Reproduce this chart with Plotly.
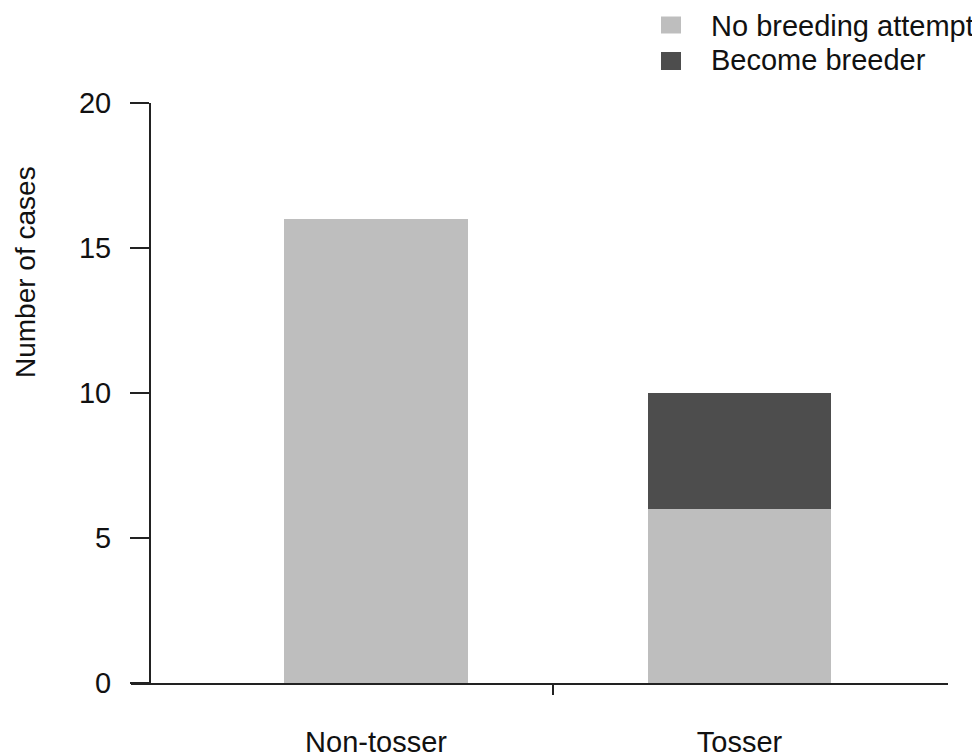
import plotly.graph_objects as go

categories = ["Non-tosser", "Tosser"]
no_breeding = [16, 6]
become_breeder = [0, 4]
series_names = ["No breeding attempt", "Become breeder"]
series_colors = ["#bebebe", "#4d4d4d"]
y_ticks = [0, 5, 10, 15, 20]

FONT = "Liberation Sans, Arial, sans-serif"

fig = go.Figure()
for name, vals, col in zip(series_names, [no_breeding, become_breeder], series_colors):
    fig.add_trace(go.Bar(
        x=categories, y=vals, name=name, width=0.506,
        marker=dict(color=col, line=dict(width=0)),
        showlegend=False,
    ))

# the page body has an 8px margin; compensate so page coordinates match
OFF = 8
W, H = 980 - OFF, 755 - OFF
L, R, T, B = 131 - OFF, 32, 103 - OFF, 72
pw, ph = W - L - R, H - T - B

def px(xp):
    return (xp - OFF - L) / pw

def py(yp):
    return (H - B - (yp - OFF)) / ph

shapes = []
annotations = []
# single x-axis tick between the groups (R-style axis)
shapes.append(dict(type="line", xref="x", yref="paper", x0=0.487, x1=0.487,
                   y0=0, y1=-12 / ph, line=dict(color="#222222", width=2)))
# manual legend
legend_rows = [(16.5, 33.5, 25.5), (52, 70, 60)]
for (top, bot, mid), name, col in zip(legend_rows, series_names, series_colors):
    shapes.append(dict(type="rect", xref="paper", yref="paper",
                       x0=px(661), x1=px(681), y0=py(bot), y1=py(top),
                       fillcolor=col, line=dict(width=0)))
    annotations.append(dict(xref="paper", yref="paper", x=px(709), y=py(mid),
                            xanchor="left", yanchor="middle", showarrow=False,
                            text=name, font=dict(size=29, color="#111111", family=FONT)))
# y-axis title
annotations.append(dict(xref="paper", yref="paper", x=px(25), y=py(272),
                        xanchor="center", yanchor="middle", showarrow=False,
                        textangle=-90, text="Number of cases",
                        font=dict(size=28, color="#111111", family=FONT)))

fig.update_layout(
    width=W, height=H, barmode="stack",
    margin=dict(l=L, r=R, t=T, b=B, autoexpand=False),
    plot_bgcolor="white", paper_bgcolor="white",
    font=dict(family=FONT, size=29, color="#111111"),
    shapes=shapes, annotations=annotations,
    xaxis=dict(range=[-0.674, 1.5736], showline=True, linecolor="#222222", linewidth=2,
               ticks="", showgrid=False, zeroline=False, ticklabelstandoff=32,
               automargin=False, tickfont=dict(size=29)),
    yaxis=dict(range=[0, 20], tickvals=y_ticks, anchor="free", position=(150 - 131) / pw,
               showline=True, linecolor="#222222", linewidth=2, ticks="outside",
               ticklen=19, tickwidth=2, tickcolor="#222222", showgrid=False,
               zeroline=False, ticklabelstandoff=13, automargin=False,
               tickfont=dict(size=29)),
)

fig.write_html("out.html")
